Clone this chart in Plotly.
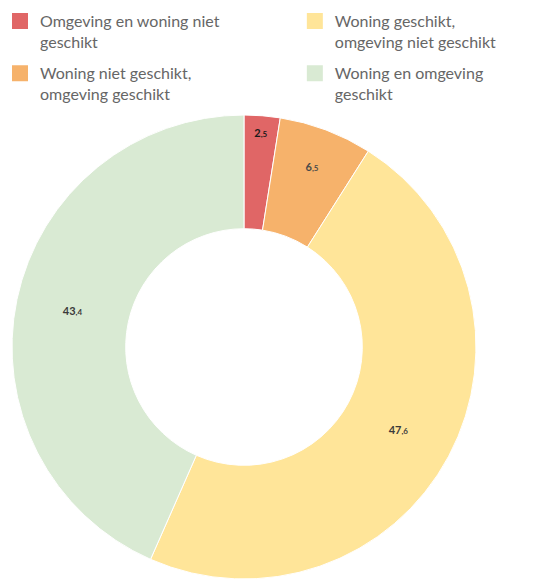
import plotly.graph_objects as go

# Share of respondents per combination (percent)
categories = [
    "Omgeving en woning niet geschikt",
    "Woning niet geschikt, omgeving geschikt",
    "Woning geschikt, omgeving niet geschikt",
    "Woning en omgeving geschikt",
]
legend_labels = [
    "Omgeving en woning niet<br>geschikt",
    "Woning niet geschikt,<br>omgeving geschikt",
    "Woning geschikt,<br>omgeving niet geschikt",
    "Woning en omgeving<br>geschikt",
]
values = [2.5, 6.5, 47.6, 43.4]
colors = ["#e06666", "#f6b26b", "#ffe599", "#d9ead3"]
text_colors = ["#1a1a1a", "#4a4a4a", "#3a3a3a", "#3a3a3a"]


def dutch_label(v):
    whole, dec = f"{v:.1f}".split(".")
    return f"<b>{whole}</b><span style='font-size:8px'><b>,{dec}</b></span>"


fig = go.Figure()

fig.add_trace(go.Pie(
    labels=categories,
    values=values,
    text=[dutch_label(v) for v in values],
    textinfo="text",
    textposition="inside",
    insidetextorientation="horizontal",
    textfont=dict(family="Lato", size=11, color=text_colors),
    marker=dict(colors=colors, line=dict(color="white", width=1)),
    hole=0.51,
    sort=False,
    direction="clockwise",
    rotation=0,
    showlegend=False,
    domain=dict(x=[0.0222, 0.8815], y=[0.0069, 0.8027]),
))

# Legend entries, one legend box per entry laid out in two columns
legend_names = ["legend", "legend2", "legend3", "legend4"]
legend_pos = [(0.0, 0.993), (0.0, 0.9034), (0.546, 0.993), (0.546, 0.9034)]
for lbl, col, lg in zip(legend_labels, colors, legend_names):
    fig.add_trace(go.Scatter(
        x=[None], y=[None], mode="markers", name=lbl,
        marker=dict(symbol="square", size=16, color=col, line=dict(width=0)),
        legend=lg, showlegend=True,
    ))

legend_font = dict(family="Lato", size=16, color="#666666")
layout_legends = {}
for lg, (lx, ly) in zip(legend_names, legend_pos):
    layout_legends[lg] = dict(
        x=lx, y=ly, xanchor="left", yanchor="top",
        font=legend_font, valign="top",
        bgcolor="rgba(0,0,0,0)", borderwidth=0,
    )

fig.update_layout(
    width=540, height=583,
    margin=dict(l=0, r=0, t=0, b=0),
    paper_bgcolor="white", plot_bgcolor="white",
    xaxis=dict(visible=False), yaxis=dict(visible=False),
    **layout_legends,
)

fig.write_html("out.html")
